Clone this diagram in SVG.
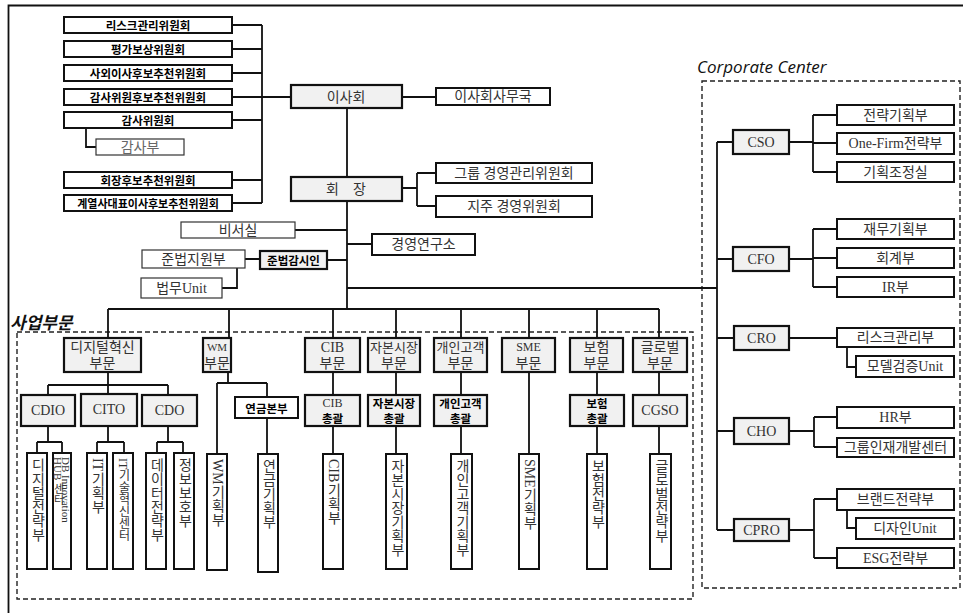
<svg xmlns="http://www.w3.org/2000/svg" width="963" height="613" viewBox="0 0 963 613">
<style>
text{font-family:"Liberation Serif","Noto Sans CJK KR",serif;fill:#333;font-size:13px;text-anchor:middle;dominant-baseline:central}
.c{font-size:14px}
.b{font-family:"Noto Sans CJK KR","Liberation Sans",sans-serif;font-weight:bold;fill:#000;font-size:11.5px}
.g{fill:#f1f1f1;stroke:#111;stroke-width:2.2}
.w{fill:#fff;stroke:#111;stroke-width:2}
.t{fill:#fff;stroke:#333;stroke-width:1.2}
.v{writing-mode:vertical-rl;font-size:14px;dominant-baseline:central;text-anchor:start}
.ln{fill:none;stroke:#111;stroke-width:1.8}
.dash{fill:none;stroke:#222;stroke-width:1.4;stroke-dasharray:5 3}
.lab{font-family:"Open Sans","Noto Sans CJK KR",sans-serif;font-style:italic;font-size:17px;fill:#111;text-anchor:start}
</style>
<rect width="963" height="613" fill="#fff"/>
<path d="M8.5,613 V5.5 H963" fill="none" stroke="#111" stroke-width="1.8"/>
<rect class="dash" x="17" y="332" width="676" height="267"/>
<rect class="dash" x="702" y="81" width="258" height="507"/>
<text class="lab" x="10" y="322" style="font-weight:bold">사업부문</text>
<text class="lab" x="697" y="66">Corporate Center</text>

<g id="connectors">
<path class="ln" d="M232,25 H262 M232,49 H262 M232,73 H262 M232,97 H291 M232,120 H262 M232,180 H262 M232,203 H262 M262,25 V203"/>
<path class="ln" d="M86,127 V147 H96"/>
<path class="ln" d="M402,97 H436"/>
<path class="ln" d="M347,108 V177 M347,201 V309"/>
<path class="ln" d="M402,188 H417 M417,173 V206 M417,173 H436 M417,206 H436"/>
<path class="ln" d="M295,230 H347 M347,244 H372 M327,260 H347 M245,259 H260 M222,288 H237 V268"/>
<path class="ln" d="M347,288 H717 M717,142 V530 M717,142 H733 M717,259 H733 M717,338 H734 M717,431 H734 M717,530 H734"/>
<path class="ln" d="M789,142 H813 M813,115 V172 M813,115 H837 M813,143 H837 M813,172 H837"/>
<path class="ln" d="M789,259 H813 M813,229 V287 M813,229 H837 M813,258 H837 M813,287 H837"/>
<path class="ln" d="M789,338 H837 M847,347 V367 H856"/>
<path class="ln" d="M789,431 H814 M814,417 V447 M814,417 H837 M814,447 H837"/>
<path class="ln" d="M789,530 H814 M814,499 V558 M814,499 H837 M814,558 H837 M847,510 V528 H856"/>
<path class="ln" d="M108,309 H659 M108,309 V338 M229,309 V338 M333,309 V338 M396,309 V338 M461,309 V338 M529,309 V338 M597,309 V338 M659,309 V338"/>
<path class="ln" d="M108,372 V385 M48,385 H168 M48,385 V395 M108,385 V395 M168,385 V395"/>
<path class="ln" d="M48,426 V442 M37,442 H62 M37,442 V453 M62,442 V453"/>
<path class="ln" d="M108,426 V442 M97,442 H124 M97,442 V453 M124,442 V453"/>
<path class="ln" d="M168,426 V442 M157,442 H183 M157,442 V453 M183,442 V453"/>
<path class="ln" d="M228,372 V383 M217,383 H267 M217,383 V454 M267,383 V397 M267,418 V454"/>
<path class="ln" d="M333,372 V395 M333,426 V454 M396,372 V395 M396,426 V454 M461,372 V395 M461,426 V454 M529,372 V454 M597,372 V395 M597,426 V454 M659,372 V395 M659,426 V454"/>
</g>

<g id="committees">
<g id="n-risk"><rect class="w" x="64" y="17" width="168" height="16"/><text class="b" x="148" y="25">리스크관리위원회</text></g>
<g id="n-comp"><rect class="w" x="64" y="41" width="168" height="16"/><text class="b" x="148" y="49">평가보상위원회</text></g>
<g id="n-outdir"><rect class="w" x="64" y="65" width="168" height="16"/><text class="b" x="148" y="73">사외이사후보추천위원회</text></g>
<g id="n-auditcand"><rect class="w" x="64" y="89" width="168" height="16"/><text class="b" x="148" y="97">감사위원후보추천위원회</text></g>
<g id="n-audit"><rect class="w" x="64" y="112" width="168" height="16"/><text class="b" x="148" y="120">감사위원회</text></g>
<g id="n-auditdept"><rect class="t" x="96" y="139" width="88" height="16"/><text class="c" x="140" y="147" style="fill:#666">감사부</text></g>
<g id="n-chaircand"><rect class="w" x="64" y="172" width="168" height="16"/><text class="b" x="148" y="180">회장후보추천위원회</text></g>
<g id="n-affil"><rect class="w" x="64" y="195" width="168" height="16"/><text class="b" x="148" y="203" style="font-size:11px">계열사대표이사후보추천위원회</text></g>
</g>

<g id="n-board"><rect class="g" x="291" y="85" width="111" height="23"/><text x="346" y="97" style="font-size:14px">이사회</text></g>
<g id="n-boardoffice"><rect class="w" x="436" y="88" width="114" height="17"/><text class="c" x="493" y="96.5">이사회사무국</text></g>
<g id="n-chair"><rect class="g" x="291" y="177" width="111" height="24"/><text x="346" y="189" style="font-size:14px;white-space:pre">회    장</text></g>
<g id="n-grpcomm"><rect class="w" x="436" y="163" width="156" height="20"/><text class="c" x="514" y="173">그룹 경영관리위원회</text></g>
<g id="n-holdcomm"><rect class="w" x="436" y="196" width="156" height="21"/><text class="c" x="514" y="206.5">지주 경영위원회</text></g>
<g id="n-secretary"><rect class="t" x="181" y="222" width="114" height="16"/><text class="c" x="238" y="230">비서실</text></g>
<g id="n-research"><rect class="w" x="372" y="234" width="103" height="21"/><text class="c" x="423.5" y="244.5">경영연구소</text></g>
<g id="n-compliance"><rect class="g" x="260" y="251" width="67" height="18"/><text class="b" x="293.5" y="260">준법감시인</text></g>
<g id="n-compdept"><rect class="t" x="142" y="250" width="103" height="18"/><text class="c" x="193.5" y="259">준법지원부</text></g>
<g id="n-legal"><rect class="t" x="141" y="278" width="81" height="20"/><text class="c" x="181.5" y="288">법무Unit</text></g>

<g id="corporate">
<g id="n-cso"><rect class="g" x="733" y="130" width="56" height="24"/><text class="c" x="761" y="142">CSO</text></g>
<g id="n-c1"><rect class="w" x="837" y="105" width="117" height="20"/><text class="c" x="895.5" y="115">전략기획부</text></g>
<g id="n-c2"><rect class="w" x="837" y="133" width="117" height="21"/><text class="c" x="895.5" y="143.5">One-Firm전략부</text></g>
<g id="n-c3"><rect class="w" x="837" y="162" width="117" height="20"/><text class="c" x="895.5" y="172">기획조정실</text></g>
<g id="n-cfo"><rect class="g" x="733" y="247" width="56" height="24"/><text class="c" x="761" y="259">CFO</text></g>
<g id="n-f1"><rect class="w" x="837" y="219" width="117" height="20"/><text class="c" x="895.5" y="229">재무기획부</text></g>
<g id="n-f2"><rect class="w" x="837" y="248" width="117" height="20"/><text class="c" x="895.5" y="258">회계부</text></g>
<g id="n-f3"><rect class="w" x="837" y="277" width="117" height="20"/><text class="c" x="895.5" y="287">IR부</text></g>
<g id="n-cro"><rect class="g" x="734" y="326" width="55" height="24"/><text class="c" x="761.5" y="338">CRO</text></g>
<g id="n-r1"><rect class="w" x="837" y="328" width="117" height="19"/><text class="c" x="895.5" y="337.5">리스크관리부</text></g>
<g id="n-r2"><rect class="w" x="856" y="356" width="98" height="21"/><text class="c" x="905" y="366.5">모델검증Unit</text></g>
<g id="n-cho"><rect class="g" x="734" y="418" width="55" height="26"/><text class="c" x="761.5" y="431">CHO</text></g>
<g id="n-h1"><rect class="w" x="837" y="407" width="117" height="21"/><text class="c" x="895.5" y="417.5">HR부</text></g>
<g id="n-h2"><rect class="w" x="837" y="438" width="117" height="19"/><text class="c" x="895.5" y="447.5">그룹인재개발센터</text></g>
<g id="n-cpro"><rect class="g" x="734" y="519" width="55" height="22"/><text class="c" x="761.5" y="530">CPRO</text></g>
<g id="n-p1"><rect class="w" x="837" y="489" width="117" height="21"/><text class="c" x="895.5" y="499.5">브랜드전략부</text></g>
<g id="n-p2"><rect class="w" x="856" y="518" width="98" height="21"/><text class="c" x="905" y="528.5">디자인Unit</text></g>
<g id="n-p3"><rect class="w" x="837" y="548" width="117" height="20"/><text class="c" x="895.5" y="558">ESG전략부</text></g>
</g>

<g id="business">
<g id="n-digital"><rect class="g" x="64" y="338" width="77" height="34"/><text class="c" x="102.5" y="347">디지털혁신</text><text class="c" x="102.5" y="363">부문</text></g>
<g id="n-cdio"><rect class="g" x="21" y="395" width="54" height="31"/><text class="c" x="48" y="410.5">CDIO</text></g>
<g id="n-cito"><rect class="g" x="81" y="394" width="56" height="32"/><text class="c" x="109" y="409">CITO</text></g>
<g id="n-cdo"><rect class="g" x="142" y="395" width="55" height="31"/><text class="c" x="169.5" y="410.5">CDO</text></g>
<g id="n-d1"><rect class="w" x="27" y="453" width="20" height="116"/><text class="v" x="37" y="458">디지털전략부</text></g>
<g id="n-d2"><rect class="w" x="53" y="453" width="18" height="116"/><text class="v" x="66" y="457" style="font-size:11px">DB Innovation</text><text class="v" x="58" y="457" style="font-size:11px">HUB 센터</text></g>
<g id="n-d3"><rect class="w" x="87" y="453" width="20" height="116"/><text class="v" x="97" y="458">IT기획부</text></g>
<g id="n-d4"><rect class="w" x="113" y="453" width="20" height="116"/><text class="v" x="123" y="458" style="font-size:12px">IT기술혁신센터</text></g>
<g id="n-d5"><rect class="w" x="146" y="453" width="20" height="116"/><text class="v" x="156" y="458">데이터전략부</text></g>
<g id="n-d6"><rect class="w" x="174" y="453" width="20" height="116"/><text class="v" x="184" y="458">정보보호부</text></g>

<g id="n-wm"><rect class="g" x="203" y="338" width="28" height="34"/><text x="217" y="347" style="font-size:11px">WM</text><text class="c" x="217" y="363">부문</text></g>
<g id="n-pension"><rect class="w" x="235" y="397" width="63" height="21"/><text class="b" x="266.5" y="407.5">연금본부</text></g>
<g id="n-wm1"><rect class="w" x="207" y="454" width="20" height="116"/><text class="v" x="217" y="459">WM기획부</text></g>
<g id="n-pen1"><rect class="w" x="258" y="454" width="20" height="118"/><text class="v" x="268" y="459">연금기획부</text></g>

<g id="n-cib"><rect class="g" x="305" y="338" width="55" height="34"/><text class="c" x="332.5" y="347">CIB</text><text class="c" x="332.5" y="363">부문</text></g>
<g id="n-cibh"><rect class="g" x="305" y="395" width="55" height="31"/><text x="332.5" y="403" style="font-size:12px">CIB</text><text class="b" x="332.5" y="418">총괄</text></g>
<g id="n-cib1"><rect class="w" x="323" y="454" width="20" height="115"/><text class="v" x="333" y="459">CIB기획부</text></g>

<g id="n-cap"><rect class="g" x="368" y="338" width="52" height="34"/><text x="394" y="347">자본시장</text><text class="c" x="394" y="363">부문</text></g>
<g id="n-caph"><rect class="g" x="368" y="395" width="52" height="31"/><text class="b" x="394" y="403">자본시장</text><text class="b" x="394" y="418">총괄</text></g>
<g id="n-cap1"><rect class="w" x="386" y="454" width="21" height="115"/><text class="v" x="396.5" y="459">자본시장기획부</text></g>

<g id="n-ret"><rect class="g" x="434" y="338" width="53" height="34"/><text x="460.5" y="347">개인고객</text><text class="c" x="460.5" y="363">부문</text></g>
<g id="n-reth"><rect class="g" x="434" y="395" width="53" height="31"/><text class="b" x="460.5" y="403">개인고객</text><text class="b" x="460.5" y="418">총괄</text></g>
<g id="n-ret1"><rect class="w" x="451" y="454" width="21" height="115"/><text class="v" x="461.5" y="459">개인고객기획부</text></g>

<g id="n-sme"><rect class="g" x="502" y="338" width="53" height="34"/><text x="528.5" y="347" style="font-size:12px">SME</text><text class="c" x="528.5" y="363">부문</text></g>
<g id="n-sme1"><rect class="w" x="519" y="454" width="20" height="115"/><text class="v" x="529" y="459">SME기획부</text></g>

<g id="n-ins"><rect class="g" x="570" y="338" width="53" height="34"/><text class="c" x="596.5" y="347">보험</text><text class="c" x="596.5" y="363">부문</text></g>
<g id="n-insh"><rect class="g" x="570" y="395" width="54" height="31"/><text class="b" x="597" y="403">보험</text><text class="b" x="597" y="418">총괄</text></g>
<g id="n-ins1"><rect class="w" x="587" y="454" width="20" height="115"/><text class="v" x="597" y="459">보험전략부</text></g>

<g id="n-glb"><rect class="g" x="633" y="338" width="54" height="34"/><text class="c" x="660" y="347">글로벌</text><text class="c" x="660" y="363">부문</text></g>
<g id="n-cgso"><rect class="g" x="633" y="395" width="54" height="31"/><text class="c" x="660" y="410.5">CGSO</text></g>
<g id="n-glb1"><rect class="w" x="650" y="454" width="21" height="115"/><text class="v" x="660.5" y="459">글로벌전략부</text></g>
</g>
</svg>
